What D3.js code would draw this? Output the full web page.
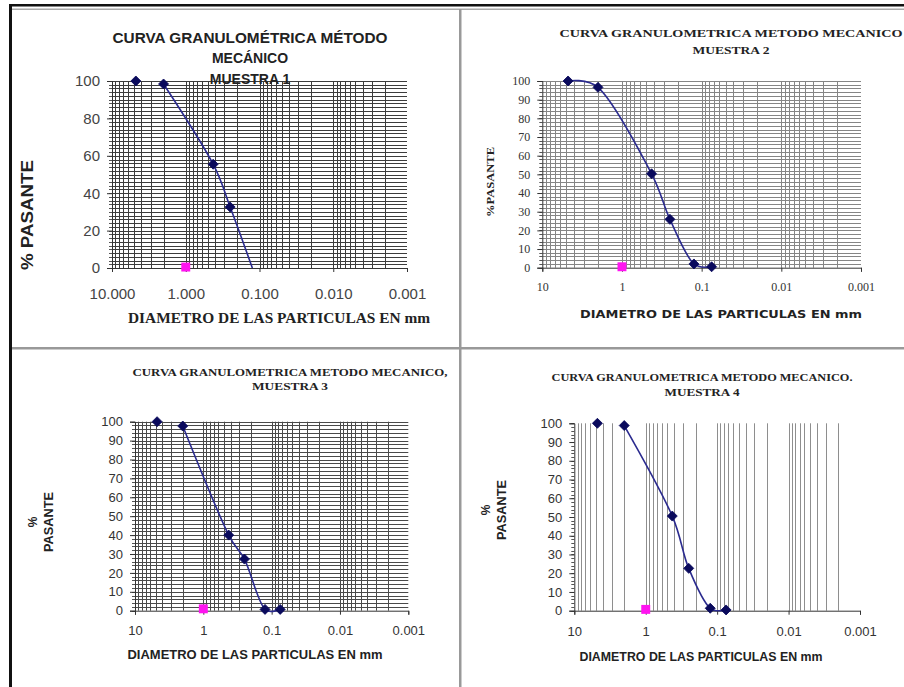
<!DOCTYPE html>
<html><head><meta charset="utf-8">
<script src="https://cdn.jsdelivr.net/npm/d3@7"></script>
<style>
html,body{margin:0;padding:0;background:#fff;}
svg{display:block;}
</style></head>
<body>
<svg id="chart" width="904" height="687"></svg>
<script>
// ---- data ----
const sizes1 = [4.75, 2.0, 0.425, 0.25, 0.125];
const pass1  = [100, 98.4, 55.5, 32.6, 0];
const sizes2 = [4.75, 2.0, 0.425, 0.25, 0.125, 0.075];
const pass2  = [100, 96.6, 50.3, 25.9, 2.0, 0.5];
const sizes3 = [4.75, 2.0, 0.425, 0.25, 0.125, 0.075];
const pass3  = [100, 97.7, 40.0, 27.3, 0.7, 0.7];
const sizes4 = [4.75, 2.0, 0.425, 0.25, 0.125, 0.075];
const pass4  = [100, 98.8, 50.5, 22.6, 1.3, 0.4];
const refSize = [1];
const refPass1 = [0.5], refPass2 = [0.5], refPass3 = [1.0], refPass4 = [0.7];
const xTickValues = [10, 1, 0.1, 0.01, 0.001];
const xTickLabels1 = ["10.000", "1.000", "0.100", "0.010", "0.001"];
const xTickLabelsN = ["10", "1", "0.1", "0.01", "0.001"];
const yTicks1 = [0, 20, 40, 60, 80, 100];
const yTicksN = [0, 10, 20, 30, 40, 50, 60, 70, 80, 90, 100];
const titles1 = ["CURVA GRANULOMÉTRICA  MÉTODO", "MECÁNICO", "MUESTRA 1"];
const titles2 = ["CURVA GRANULOMETRICA  METODO MECANICO", "MUESTRA 2"];
const titles3 = ["CURVA GRANULOMETRICA METODO MECANICO,", "MUESTRA 3"];
const titles4 = ["CURVA GRANULOMETRICA METODO MECANICO.", "MUESTRA 4"];
const xTitle1 = "DIAMETRO  DE LAS PARTICULAS  EN mm";
const xTitleN = "DIAMETRO DE LAS PARTICULAS EN mm";

const SANS = "'Liberation Sans', Arial, sans-serif";
const SERIF = "'Liberation Serif', 'Times New Roman', serif";

const svg = d3.select("#chart");

// ---- frame ----
svg.append("rect").attr("x", 9).attr("y", 4).attr("width", 3).attr("height", 683).attr("fill", "#111");
svg.append("rect").attr("x", 9).attr("y", 4).attr("width", 895).attr("height", 2.5).attr("fill", "#111");
svg.append("rect").attr("x", 12).attr("y", 8.5).attr("width", 892).attr("height", 1.5).attr("fill", "#aaa");
svg.append("rect").attr("x", 459).attr("y", 9).attr("width", 2.5).attr("height", 678).attr("fill", "#999");
svg.append("rect").attr("x", 12).attr("y", 347).attr("width", 892).attr("height", 2.5).attr("fill", "#999");

const panels = [
  { sizes: sizes1, pass: pass1, refPass: refPass1, lineFrom: 1, markTo: 3,
    x0: 112, x1: 407, yT: 81, yB: 268, yTicks: yTicks1, xLabels: xTickLabels1,
    gridColor: "#3c3c3c", hGrid: true, tickFont: SANS, tickSize: 15, tickColor: "#444",
    titles: titles1, titleFont: SANS, titleSize: 14, titleX: 250, titleY: [38, 57.5, 79], titleLen: [275, null, null],
    xTitle: xTitle1, xTitleFont: SERIF, xTitleSize: 14, xTitleX: 279, xTitleY: 318, xTitleLen: 302,
    xLabY: 293, yTitle: ["% PASANTE"], yTitleFont: SANS, yTitleSize: 17, yTitleX: [27], yTitleY: 215, yTitleLen: 110 },
  { sizes: sizes2, pass: pass2, refPass: refPass2, lineFrom: 0, markTo: 5,
    x0: 542.3, x1: 861, yT: 81, yB: 267.7, yTicks: yTicksN, xLabels: xTickLabelsN,
    gridColor: "#858585", hGrid: true, tickFont: SERIF, tickSize: 12, tickColor: "#333",
    titles: titles2, titleFont: SERIF, titleSize: 10, titleX: 731, titleY: [33, 50.5], titleLen: [343, 77],
    xTitle: xTitleN, xTitleFont: "'DejaVu Sans', sans-serif", xTitleSize: 11, xTitleX: 721, xTitleY: 314, xTitleLen: 282,
    xLabY: 287, yTitle: ["%PASANTE"], yTitleFont: SERIF, yTitleSize: 10, yTitleX: [490], yTitleY: 182, yTitleLen: 70 },
  { sizes: sizes3, pass: pass3, refPass: refPass3, lineFrom: 1, markTo: 5,
    x0: 135, x1: 408.3, yT: 421.7, yB: 610.7, yTicks: yTicksN, xLabels: xTickLabelsN,
    gridColor: "#4a4a4a", hGrid: true, tickFont: SANS, tickSize: 13, tickColor: "#333",
    titles: titles3, titleFont: SERIF, titleSize: 10, titleX: 290, titleY: [372, 386.5], titleLen: [315, 76],
    xTitle: xTitleN, xTitleFont: SANS, xTitleSize: 12, xTitleX: 255, xTitleY: 655, xTitleLen: 255,
    xLabY: 631, yTitle: ["%", "PASANTE"], yTitleFont: SANS, yTitleSize: 12, yTitleX: [33, 49], yTitleY: 522, yTitleLen: 60 },
  { sizes: sizes4, pass: pass4, refPass: refPass4, lineFrom: 1, markTo: 5,
    x0: 574.3, x1: 860, yT: 423.3, yB: 610.7, yTicks: yTicksN, xLabels: xTickLabelsN,
    gridColor: "#8e8e8e", hGrid: false, tickFont: SANS, tickSize: 13, tickColor: "#333",
    titles: titles4, titleFont: SERIF, titleSize: 10, titleX: 702, titleY: [377, 392], titleLen: [301, 75],
    xTitle: xTitleN, xTitleFont: SANS, xTitleSize: 12, xTitleX: 701, xTitleY: 657, xTitleLen: 243,
    xLabY: 632, yTitle: ["%", "PASANTE"], yTitleFont: SANS, yTitleSize: 12, yTitleX: [486, 502], yTitleY: 510, yTitleLen: 60 }
];

panels.forEach(p => {
  const g = svg.append("g");
  const x = d3.scaleLog().domain([10, 0.001]).range([p.x0, p.x1]);
  const y = d3.scaleLinear().domain([0, 100]).range([p.yB, p.yT]);

  // vertical grid (log minor ticks from 10 down to 0.002)
  const vTicks = x.ticks().filter(v => v < 9.999 && v > 0.0015);
  g.append("g").selectAll("line").data(vTicks).join("line")
    .attr("x1", d => Math.round(x(d)) + 0.5).attr("x2", d => Math.round(x(d)) + 0.5)
    .attr("y1", y(0)).attr("y2", y(100))
    .attr("stroke", p.gridColor).attr("stroke-width", 1);

  // horizontal grid every 2
  const minorY = d3.range(0, 101, 2);
  if (p.hGrid) {
    g.append("g").selectAll("line").data(minorY.filter(v => v > 0)).join("line")
      .attr("x1", x(10)).attr("x2", x(0.001))
      .attr("y1", d => Math.round(y(d)) + 0.5).attr("y2", d => Math.round(y(d)) + 0.5)
      .attr("stroke", p.gridColor).attr("stroke-width", 1);
  }

  // minor y ticks
  g.append("g").selectAll("line").data(minorY).join("line")
    .attr("x1", x(10) - 3).attr("x2", x(10))
    .attr("y1", d => Math.round(y(d)) + 0.5).attr("y2", d => Math.round(y(d)) + 0.5)
    .attr("stroke", "#555");

  // axes
  const xAxis = d3.axisBottom(x).tickValues(xTickValues)
    .tickFormat((d, i) => p.xLabels[i]).tickSize(4).tickPadding(12);
  const xa = g.append("g").attr("transform", `translate(0,${y(0)})`).call(xAxis);
  xa.select(".domain").attr("stroke", "#333");
  xa.selectAll(".tick line").attr("stroke", "#333");
  xa.selectAll("text").attr("font-family", p.tickFont).attr("font-size", p.tickSize)
    .attr("fill", p.tickColor).attr("dy", null).attr("y", p.xLabY - y(0))
    .attr("dominant-baseline", "central");

  const yAxis = d3.axisLeft(y).tickValues(p.yTicks).tickSize(5).tickPadding(7);
  const ya = g.append("g").attr("transform", `translate(${x(10)},0)`).call(yAxis);
  ya.select(".domain").attr("stroke", "#333");
  ya.selectAll(".tick line").attr("stroke", "#333");
  ya.selectAll("text").attr("font-family", p.tickFont).attr("font-size", p.tickSize)
    .attr("fill", p.tickColor);

  // curve
  const pts = p.sizes.map((s, i) => [s, p.pass[i]]);
  const line = d3.line().x(d => x(d[0])).y(d => y(d[1])).curve(d3.curveCatmullRom.alpha(0.3));
  g.append("path").datum(pts.slice(p.lineFrom))
    .attr("d", line).attr("fill", "none").attr("stroke", "#2b2b8f").attr("stroke-width", 1.6);

  // markers
  const sym = d3.symbol(d3.symbolSquare, 50);
  g.append("g").selectAll("path").data(pts.slice(0, p.markTo + 1)).join("path")
    .attr("d", sym)
    .attr("transform", d => `translate(${x(d[0])},${y(d[1])}) rotate(45)`)
    .attr("fill", "#0a0a5c").attr("stroke", "#0a0a5c").attr("stroke-width", 0.8);

  // reference series (pink)
  g.append("g").selectAll("path").data(refSize.map((s, i) => [s, p.refPass[i]])).join("path")
    .attr("d", d3.symbol(d3.symbolSquare, 80))
    .attr("transform", d => `translate(${x(d[0])},${y(d[1])})`)
    .attr("fill", "#ff14f0");

  // titles
  p.titles.forEach((t, i) => {
    const tt = g.append("text").text(t)
      .attr("x", p.titleX).attr("y", p.titleY[i])
      .attr("text-anchor", "middle").attr("dominant-baseline", "central")
      .attr("font-family", p.titleFont).attr("font-weight", "bold")
      .attr("font-size", p.titleSize).attr("fill", "#222");
    if (p.titleLen[i]) tt.attr("textLength", p.titleLen[i]).attr("lengthAdjust", "spacingAndGlyphs");
  });

  // x title
  g.append("text").text(p.xTitle)
    .attr("x", p.xTitleX).attr("y", p.xTitleY)
    .attr("text-anchor", "middle").attr("dominant-baseline", "central")
    .attr("font-family", p.xTitleFont).attr("font-weight", "bold")
    .attr("font-size", p.xTitleSize).attr("fill", "#222")
    .attr("textLength", p.xTitleLen).attr("lengthAdjust", "spacingAndGlyphs");

  // y title
  p.yTitle.forEach((t, i) => {
    const yt = g.append("text").text(t)
      .attr("transform", `translate(${p.yTitleX[i]},${p.yTitleY}) rotate(-90)`)
      .attr("text-anchor", "middle").attr("dominant-baseline", "central")
      .attr("font-family", p.yTitleFont).attr("font-weight", "bold")
      .attr("font-size", p.yTitleSize).attr("fill", "#222");
    if (t.length > 2) yt.attr("textLength", p.yTitleLen).attr("lengthAdjust", "spacingAndGlyphs");
  });
});
</script>
</body></html>
